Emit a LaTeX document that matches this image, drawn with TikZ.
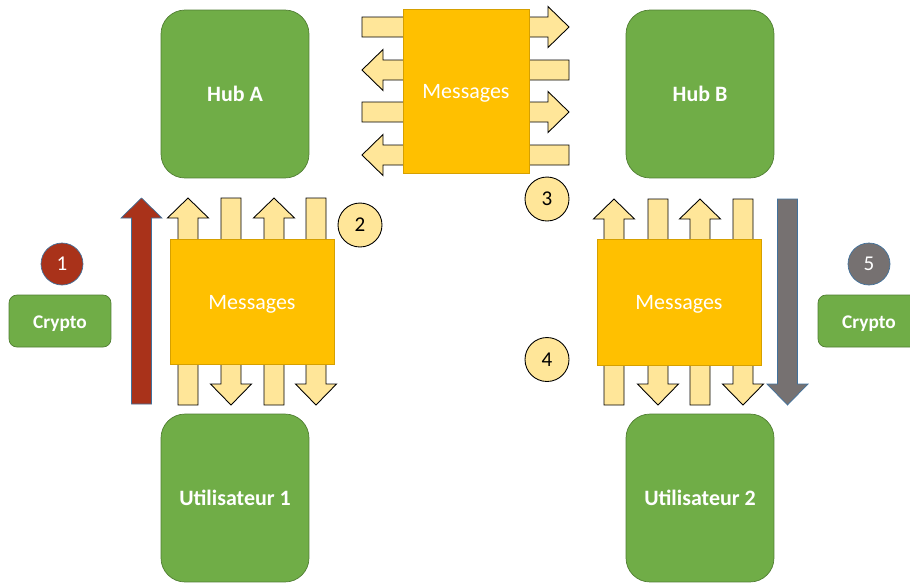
\documentclass[tikz,border=0pt]{standalone}
\usepackage{fontspec}
\setmainfont{Carlito}
\usepackage{tikz}
\usetikzlibrary{calc}
\definecolor{hubgreen}{RGB}{112,173,71}
\definecolor{hubline}{RGB}{80,126,50}
\definecolor{msgyellow}{RGB}{255,192,0}
\definecolor{msgline}{RGB}{214,160,0}
\definecolor{lightyellow}{RGB}{255,230,153}
\definecolor{cryptored}{RGB}{169,50,26}
\definecolor{cryptogray}{RGB}{118,113,113}
\definecolor{officeblue}{RGB}{65,113,156}
% vertical block arrow: style, x, tail, head base, tip
\newcommand\vblock[5]{\draw[#1] ({#2-10},#3) -- ({#2-10},#4) -- ({#2-20.5},#4) -- (#2,#5)
  -- ({#2+20.5},#4) -- ({#2+10},#4) -- ({#2+10},#3) -- cycle;}
% horizontal block arrow: style, y, tail, head base, tip
\newcommand\hblock[5]{\draw[#1] (#3,{#2-10}) -- (#4,{#2-10}) -- (#4,{#2-20.5}) -- (#5,#2)
  -- (#4,{#2+20.5}) -- (#4,{#2+10}) -- (#3,{#2+10}) -- cycle;}

\begin{document}
\begin{tikzpicture}[x=0.02cm, y=-0.02cm,
      box text/.style={text height=1.15em, text depth=0.25em},
      hub/.style={box text, fill=hubgreen, draw=hubline, line width=0.4pt, rounded corners=0.48cm,
        minimum width=2.96cm, minimum height=3.36cm, text=white, font=\bfseries\fontsize{12.5}{14}\selectfont},
      crypto/.style={box text, fill=hubgreen, draw=hubline, line width=0.4pt, rounded corners=0.16cm,
        minimum width=2.04cm, minimum height=1.04cm, text=white, font=\bfseries\fontsize{11}{13}\selectfont},
      msgbox/.style={box text, fill=msgyellow, draw=msgline, line width=0.5pt, text=white,
        font=\fontsize{12.5}{14}\selectfont},
      step num/.style={circle, draw=black, line width=0.5pt, fill=lightyellow, minimum size=0.88cm,
        inner sep=0pt, font=\fontsize{12}{14}\selectfont},
      key num/.style={circle, draw=officeblue, line width=0.4pt, minimum size=0.84cm,
        inner sep=0pt, text=white, font=\fontsize{12}{14}\selectfont},
      small arrow/.style={fill=lightyellow, draw=black, line width=0.5pt},
      ]
      \useasboundingbox (0,0) rectangle (910,583);

      % hubs and users
      \node[hub] (HubA) at (235,94) {Hub A};
      \node[hub] (HubB) at (700,94) {Hub B};
      \node[hub] (UserA) at (235,498) {Utilisateur 1};
      \node[hub] (UserB) at (700,498) {Utilisateur 2};

      % crypto
      \node[crypto] (CryptoA) at (60,321) {Crypto};
      \node[crypto] (CryptoB) at (869,321) {Crypto};
      \node[key num, fill=cryptored] (KeyA) at (62,264) {1};
      \node[key num, fill=cryptogray] (KeyB) at (869,264) {5};
      \vblock{fill=cryptored, draw=officeblue, line width=0.4pt}{141.5}{404}{218}{198}
      \vblock{fill=cryptogray, draw=officeblue, line width=0.4pt}{787.5}{199}{384}{405}

      % messages user 1 <-> hub A
      \foreach \x in {188,274} {\vblock{small arrow}{\x}{405}{218}{198}}
      \foreach \x in {231,316} {\vblock{small arrow}{\x}{198}{384}{405}}
      \node[msgbox, minimum width=3.28cm, minimum height=2.5cm] (MsgA) at (252,301.5) {Messages};

      % messages hub A <-> hub B
      \foreach \y in {27,112} {\hblock{small arrow}{\y}{362}{548}{569}}
      \foreach \y in {70,155} {\hblock{small arrow}{\y}{569}{383}{362}}
      \node[msgbox, minimum width=2.52cm, minimum height=3.28cm] (MsgHub) at (466,91) {Messages};

      % messages hub B <-> user 2
      \foreach \x in {614,700} {\vblock{small arrow}{\x}{405}{219}{199}}
      \foreach \x in {658,743} {\vblock{small arrow}{\x}{199}{384}{405}}
      \node[msgbox, minimum width=3.28cm, minimum height=2.52cm] (MsgB) at (679,302) {Messages};

      % steps
      \node[step num] (StepTwo) at (360,225) {2};
      \node[step num] (StepThree) at (547,199) {3};
      \node[step num] (StepFour) at (547,359.5) {4};
    \end{tikzpicture}
\end{document}
